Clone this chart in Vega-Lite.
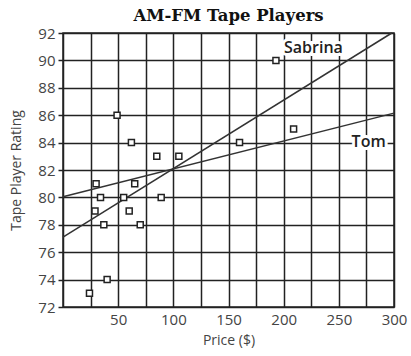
{
  "$schema": "https://vega.github.io/schema/vega-lite/v6.json",
  "width": 331,
  "height": 274,
  "autosize": "none",
  "padding": {"left": 63, "top": 33, "right": 17, "bottom": 49},
  "background": "white",
  "title": {"text": "AM-FM Tape Players", "font": "DejaVu Serif", "fontWeight": "bold", "fontSize": 16.5, "color": "#111", "offset": 2},
  "config": {
    "view": {"stroke": "#222", "strokeWidth": 1.5},
    "axis": {
      "gridColor": "#222", "gridWidth": 1.5, "gridOpacity": 1,
      "domain": false, "labelOverlap": false, "labelFlush": false,
      "labelFont": "Open Sans", "labelFontSize": 15, "labelColor": "#444",
      "titleFont": "Open Sans", "titleFontSize": 14, "titleFontWeight": "normal", "titleColor": "#444"
    }
  },
  "datasets": {
    "players": [
      {"price": 24, "rating": 73}, {"price": 40, "rating": 74}, {"price": 29, "rating": 79},
      {"price": 37, "rating": 78}, {"price": 30, "rating": 81}, {"price": 34, "rating": 80},
      {"price": 49, "rating": 86}, {"price": 62, "rating": 84}, {"price": 55, "rating": 80},
      {"price": 60, "rating": 79}, {"price": 65, "rating": 81}, {"price": 70, "rating": 78},
      {"price": 89, "rating": 80}, {"price": 85, "rating": 83}, {"price": 105, "rating": 83},
      {"price": 160, "rating": 84}, {"price": 193, "rating": 90}, {"price": 209, "rating": 85}
    ],
    "fits": [
      {"who": "Sabrina", "price": 0, "rating": 77.1}, {"who": "Sabrina", "price": 298, "rating": 92},
      {"who": "Tom", "price": 0, "rating": 80.05}, {"who": "Tom", "price": 300, "rating": 86.15}
    ],
    "names": [
      {"who": "Sabrina", "price": 227, "rating": 90.9},
      {"who": "Tom", "price": 277, "rating": 84.05}
    ]
  },
  "encoding": {
    "x": {"field": "price", "type": "quantitative", "scale": {"domain": [0, 300], "nice": false},
      "axis": {"values": [0, 25, 50, 75, 100, 125, 150, 175, 200, 225, 250, 275, 300], "tickCount": 40, "format": "d", "ticks": false, "labelPadding": 5,
        "labelExpr": "datum.value % 50 == 0 && datum.value > 0 ? datum.label : ''", "title": "Price ($)", "titlePadding": 6}},
    "y": {"field": "rating", "type": "quantitative", "scale": {"domain": [72, 92], "nice": false, "zero": false},
      "axis": {"values": [72, 74, 76, 78, 80, 82, 84, 86, 88, 90, 92], "tickCount": 40, "format": "d", "ticks": true, "tickSize": 5, "tickColor": "#222", "tickWidth": 1.5,
        "labelPadding": 3, "title": "Tape Player Rating", "titlePadding": 14}}
  },
  "layer": [
    {
      "data": {"name": "fits"},
      "mark": {"type": "line", "color": "#333", "strokeWidth": 1.5},
      "encoding": {"detail": {"field": "who"}}
    },
    {
      "data": {"name": "players"},
      "mark": {"type": "point", "shape": "square", "filled": true, "fill": "white", "stroke": "#222", "strokeWidth": 1.5, "size": 36, "opacity": 1},
      "encoding": {}
    },
    {
      "data": {"name": "names"},
      "mark": {"type": "text", "font": "Open Sans", "fontSize": 16, "fontWeight": 600, "stroke": "white", "strokeWidth": 6, "fill": "white"},
      "encoding": {"text": {"field": "who"}}
    },
    {
      "data": {"name": "names"},
      "mark": {"type": "text", "font": "Open Sans", "fontSize": 16, "fontWeight": 600, "color": "#222"},
      "encoding": {"text": {"field": "who"}}
    }
  ]
}
